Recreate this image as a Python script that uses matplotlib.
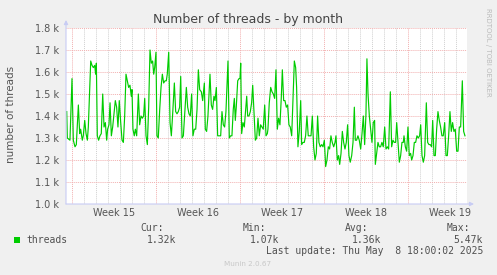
import numpy as np
import matplotlib
matplotlib.use('Agg')
import matplotlib.pyplot as plt
from matplotlib.patches import Rectangle

# days since Monday of week 15, thread counts
days = [-0.44, -0.39, -0.17, 0.0, 0.11, 0.25, 0.36, 0.53, 0.64, 0.72, 0.86, 0.94, 1.06, 1.17, 1.28, 1.36,
        1.56, 1.67, 1.78, 1.89, 1.97, 2.03, 2.11, 2.22, 2.33, 2.44, 2.56, 2.67, 2.78, 2.89, 2.97, 3.08,
        3.17, 3.28, 3.39, 3.5, 3.61, 3.72, 3.83, 3.94, 4.06, 4.17, 4.28, 4.39, 4.5, 4.61, 4.72, 4.83,
        4.94, 5.0, 5.08, 5.19, 5.28, 5.39, 5.53, 5.64, 5.75, 5.86, 5.97, 6.06, 6.17, 6.28, 6.39, 6.5,
        6.61, 6.72, 6.81, 6.89, 7.0, 7.08, 7.19, 7.31, 7.42, 7.53, 7.64, 7.75, 7.86, 7.94, 8.06, 8.17,
        8.28, 8.39, 8.53, 8.64, 8.75, 8.86, 8.97, 9.06, 9.17, 9.28, 9.39, 9.53, 9.64, 9.75, 9.86, 9.97,
        10.08, 10.19, 10.31, 10.42, 10.53, 10.64, 10.78, 10.89, 11.03, 11.11, 11.22, 11.33, 11.5, 11.61,
        11.72, 11.83, 11.92, 12.03, 12.14, 12.28, 12.39, 12.5, 12.61, 12.72, 12.83, 13.0, 13.11, 13.22,
        13.33, 13.44, 13.53, 13.61, 13.69, 13.81, 13.92, 14.0, 14.06, 14.14, 14.25, 14.36, 14.47, 14.56,
        14.64, 14.75, 14.86, 14.97, 15.06, 15.17, 15.28, 15.39, 15.5, 15.61, 15.72, 15.83, 15.94, 16.06,
        16.17, 16.28, 16.33, 16.44, 16.56, 16.67, 16.78, 16.89, 17.0, 17.11, 17.22, 17.33, 17.44, 17.53,
        17.64, 17.75, 17.86, 17.97, 18.08, 18.19, 18.31, 18.42, 18.53, 18.64, 18.72, 18.83, 18.94, 19.06,
        19.14, 19.25, 19.36, 19.47, 19.58, 19.69, 19.81, 19.92, 20.03, 20.14, 20.25, 20.36, 20.47, 20.58,
        20.69, 20.81, 20.92, 21.03, 21.14, 21.25, 21.36, 21.47, 21.58, 21.69, 21.81, 21.92, 22.0, 22.11,
        22.22, 22.31, 22.42, 22.53, 22.64, 22.75, 22.86, 22.97, 23.08, 23.19, 23.31, 23.42, 23.53, 23.61,
        23.72, 23.83, 23.94, 24.06, 24.17, 24.28, 24.39, 24.5, 24.58, 24.67, 24.78, 24.89, 25.0, 25.11,
        25.22, 25.28, 25.39, 25.5, 25.61, 25.72, 25.83, 25.94, 26.06, 26.17, 26.28, 26.39, 26.53, 26.64,
        26.75, 26.86, 26.97, 27.06, 27.17, 27.28, 27.39, 27.5, 27.61, 27.67, 27.78, 27.89, 28.0, 28.11,
        28.22, 28.31, 28.42, 28.53, 28.64, 28.75, 28.86, 28.97, 29.06, 29.17, 29.28, 29.39, 29.53, 29.64,
        29.75, 29.86, 29.97, 30.06, 30.17, 30.28, 30.39, 30.5, 30.61, 30.72, 30.83, 30.94, 31.06, 31.17,
        31.28, 31.39, 31.5, 31.61, 31.72, 31.83, 31.94, 32.06, 32.17, 32.28, 32.39, 32.53, 32.64, 32.75]
threads = [1420, 1300, 1290, 1570, 1290, 1260, 1270, 1450, 1320, 1340, 1290, 1310, 1380, 1320, 1290, 1350,
           1650, 1630, 1620, 1630, 1590, 1640, 1310, 1290, 1310, 1320, 1500, 1350, 1370, 1290, 1340, 1360,
           1460, 1310, 1350, 1410, 1470, 1440, 1350, 1470, 1370, 1290, 1280, 1400, 1590, 1560, 1530, 1540,
           1490, 1520, 1340, 1310, 1340, 1310, 1500, 1360, 1400, 1390, 1400, 1480, 1310, 1270, 1440, 1700,
           1640, 1650, 1590, 1620, 1690, 1310, 1300, 1430, 1530, 1590, 1550, 1560, 1560, 1590, 1690, 1370,
           1310, 1410, 1550, 1420, 1410, 1420, 1440, 1580, 1300, 1310, 1410, 1530, 1440, 1410, 1400, 1500,
           1310, 1340, 1340, 1430, 1610, 1520, 1510, 1470, 1550, 1340, 1330, 1400, 1590, 1450,
           1430, 1490, 1470, 1530, 1310, 1310, 1310, 1420, 1360, 1350, 1420, 1650, 1300, 1310,
           1310, 1430, 1480, 1380, 1440, 1560, 1570, 1570, 1640, 1320, 1370, 1350, 1430, 1490,
           1400, 1400, 1420, 1460, 1540, 1410, 1290, 1300, 1390, 1310, 1360, 1350, 1340, 1450,
           1310, 1320, 1340, 1460, 1530, 1510, 1500, 1480, 1610, 1340, 1390, 1360, 1480, 1610,
           1470, 1470, 1440, 1450, 1360, 1350, 1310, 1480, 1650, 1620, 1530, 1260, 1330, 1470,
           1270, 1280, 1280, 1310, 1400, 1310, 1310, 1310, 1400, 1260, 1200, 1230, 1400, 1280,
           1260, 1270, 1260, 1290, 1170, 1200, 1260, 1250, 1310, 1280, 1260, 1280, 1310, 1200,
           1220, 1180, 1230, 1330, 1280, 1250, 1280, 1360, 1220, 1190, 1220, 1280, 1440, 1290,
           1290, 1310, 1290, 1250, 1320, 1400, 1270, 1410, 1660, 1500, 1400, 1340, 1280, 1370,
           1380, 1180, 1230, 1280, 1260, 1260, 1280, 1260, 1350, 1250, 1260, 1250, 1510, 1260,
           1290, 1280, 1280, 1370, 1280, 1190, 1220, 1280, 1280, 1310, 1260, 1240, 1350, 1220,
           1230, 1200, 1220, 1280, 1280, 1310, 1300, 1310, 1360, 1220, 1190, 1220, 1460, 1280,
           1270, 1270, 1260, 1380, 1220, 1220, 1340, 1420, 1380, 1350, 1310, 1310, 1370, 1220,
           1220, 1310, 1420, 1330, 1370, 1330, 1340, 1240, 1240, 1350, 1350, 1560, 1330, 1310]

week_starts = [0, 7, 14, 21, 28]
week_labels = ['Week 15', 'Week 16', 'Week 17', 'Week 18', 'Week 19']
y_ticks = [1000, 1100, 1200, 1300, 1400, 1500, 1600, 1700, 1800]

legend_heads = ['Cur:', 'Min:', 'Avg:', 'Max:']
legend_vals = ['1.32k', '1.07k', '1.36k', '5.47k']

W, H = 497, 275
fig = plt.figure(figsize=(W / 100, H / 100), dpi=100, facecolor='#F0F0F0')
ax = fig.add_axes([66 / W, 1 - 204 / H, 401 / W, 176 / H])
ax.set_facecolor('white')
ax.set_xlim(-0.5, 32.92)
ax.set_ylim(1000, 1800)

dot = (0, (1, 1))
for d in range(0, 33):
    if d in week_starts:
        continue
    ax.axvline(d, color='#D0D0D0', lw=0.7, ls=dot, zorder=1)
for d in week_starts:
    ax.axvline(d, color='#F2B0B0', lw=0.7, ls=dot, zorder=1)
for v in y_ticks:
    ax.axhline(v, color='#F2B0B0', lw=0.7, ls=dot, zorder=1)

ax.plot(days, threads, color='#00CC00', lw=0.85, zorder=3)

ax.set_yticks(y_ticks)
ax.set_yticklabels(['%.1f k' % (v / 1000) for v in y_ticks])
ax.set_xticks([w + 3.5 for w in week_starts])
ax.set_xticklabels(week_labels)
ax.tick_params(axis='y', length=0, pad=5, labelsize=7, labelcolor='#555555')
ax.tick_params(axis='x', length=0, pad=3, labelsize=7, labelcolor='#555555')
for s in ax.spines.values():
    s.set_visible(False)

# axis lines with arrows
arrow = dict(arrowstyle='-|>', color='#C8CCF4', lw=0.8, mutation_scale=6, shrinkA=0, shrinkB=0)
x0, y0 = 66 / W, 1 - 204 / H
ax.annotate('', xy=(x0, 1 - 20 / H), xytext=(x0, y0), xycoords='figure fraction', arrowprops=arrow)
ax.annotate('', xy=(474 / W, y0), xytext=(x0, y0), xycoords='figure fraction', arrowprops=arrow)

fig.text(248 / W, 1 - 19 / H, 'Number of threads - by month', ha='center', va='center',
         fontsize=9, color='#444444')
fig.text(11 / W, 1 - 114 / H, 'number of threads', rotation=90, ha='center', va='center',
         fontsize=7.5, color='#555555')
fig.text(488 / W, 1 - 8 / H, 'RRDTOOL / TOBI OETIKER', rotation=270, ha='center', va='top',
         fontsize=5, color='#BBBBBB')

mono = 'DejaVu Sans Mono'
txt = '#505050'
fig.patches.append(Rectangle((14 / W, 1 - 243 / H), 6 / W, 6 / H, transform=fig.transFigure,
                             facecolor='#00CC00', edgecolor='none'))
fig.text(26 / W, 1 - 240 / H, 'threads', ha='left', va='center', fontsize=7, family=mono, color=txt)
head_x = [140, 243, 345, 447]
val_x = [176, 279, 381, 483]
for hx, vx, h, v in zip(head_x, val_x, legend_heads, legend_vals):
    fig.text(hx / W, 1 - 228 / H, h, ha='left', va='center', fontsize=7, family=mono, color=txt)
    fig.text(vx / W, 1 - 240 / H, v, ha='right', va='center', fontsize=7, family=mono, color=txt)
fig.text(483 / W, 1 - 251 / H, 'Last update: Thu May  8 18:00:02 2025', ha='right', va='center',
         fontsize=7, family=mono, color=txt)
fig.text(248 / W, 1 - 264 / H, 'Munin 2.0.67', ha='center', va='center', fontsize=5.2, color='#C8C8C8')

fig.savefig('out.png', dpi=100, facecolor=fig.get_facecolor())
